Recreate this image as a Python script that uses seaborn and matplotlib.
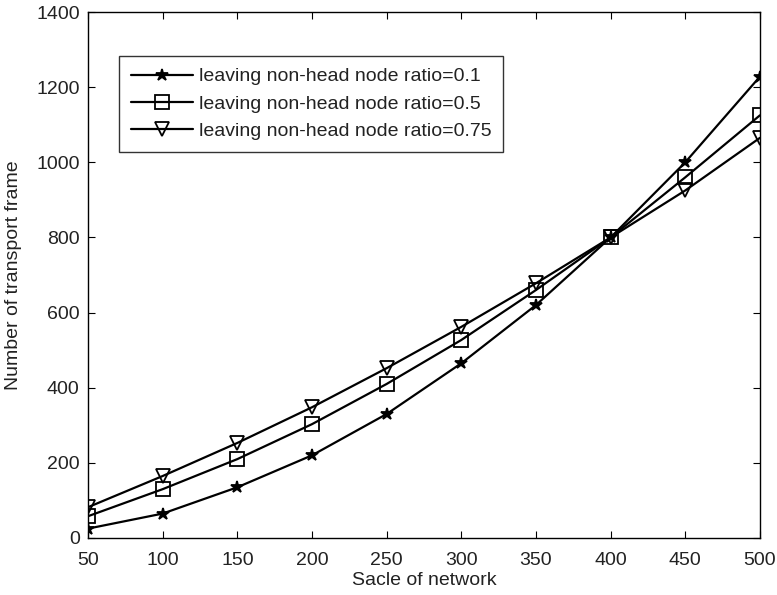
import matplotlib
matplotlib.use("Agg")
import matplotlib.pyplot as plt
import seaborn as sns
import pandas as pd

scale = [50, 100, 150, 200, 250, 300, 350, 400, 450, 500]
ratio_01 = [25, 65, 135, 220, 330, 465, 620, 800, 1000, 1228]
ratio_05 = [58, 130, 210, 303, 410, 527, 660, 800, 960, 1125]
ratio_075 = [82, 165, 253, 348, 452, 562, 678, 800, 925, 1065]
labels = ["leaving non-head node ratio=0.1",
          "leaving non-head node ratio=0.5",
          "leaving non-head node ratio=0.75"]

sns.set_style("ticks")
plt.rcParams['font.family'] = ['Liberation Sans', 'DejaVu Sans']

df = pd.DataFrame({
    "scale": scale * 3,
    "value": ratio_01 + ratio_05 + ratio_075,
    "series": [labels[0]] * len(scale) + [labels[1]] * len(scale) + [labels[2]] * len(scale),
})

fig = plt.figure(figsize=(7.77, 5.95), dpi=100)
ax = fig.add_axes([0.1133, 0.0958, 0.8647, 0.884])

styles = [dict(marker="*", markersize=9, markerfacecolor="black"),
          dict(marker="s", markersize=10, markerfacecolor="none"),
          dict(marker="v", markersize=10, markerfacecolor="none")]
for lab, st in zip(labels, styles):
    sub = df[df["series"] == lab]
    sns.lineplot(data=sub, x="scale", y="value", ax=ax, color="black",
                 linewidth=1.6, label=lab, markeredgecolor="black",
                 markeredgewidth=1.3, **st)

ax.set_xlim(50, 500)
ax.set_ylim(0, 1400)
ax.set_xticks(scale)
ax.set_yticks(range(0, 1401, 200))
ax.tick_params(direction="in", labelsize=14, length=5, top=True, right=True,
               colors="black", labelcolor="#222222")
ax.tick_params(axis="x", pad=10)
ax.tick_params(axis="y", pad=6)
ax.set_xlabel("Sacle of network", fontsize=14, color="#222222", labelpad=2)
ax.set_ylabel("Number of transport frame", fontsize=14, color="#222222", labelpad=10)
for s in ax.spines.values():
    s.set_linewidth(1.0)
    s.set_color("black")

leg = ax.legend(loc="upper left", bbox_to_anchor=(0.046, 0.916), borderaxespad=0,
                fontsize=14, frameon=True, fancybox=False, edgecolor="black",
                handlelength=3.2, borderpad=0.6, labelspacing=0.5,
                handletextpad=0.3)
leg.get_frame().set_linewidth(1.0)
for t in leg.get_texts():
    t.set_color("#222222")

fig.savefig("out.png", dpi=100)
